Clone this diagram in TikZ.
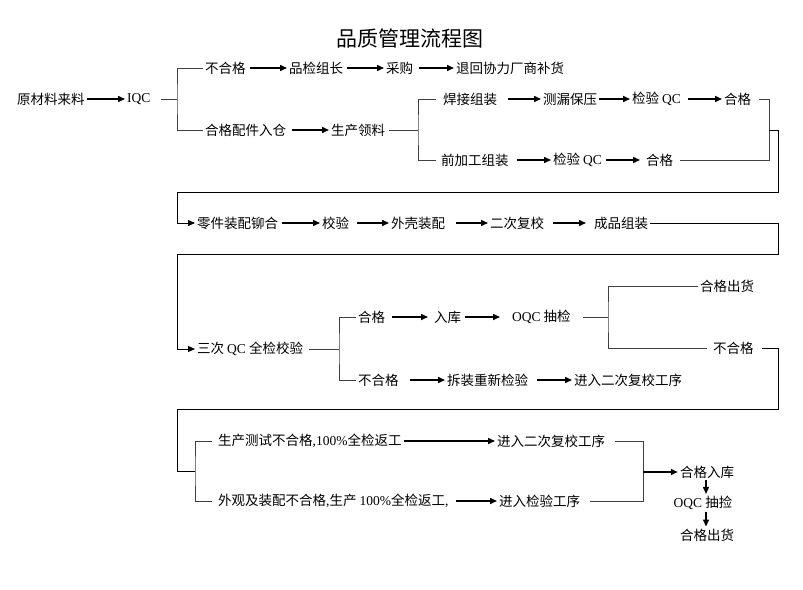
\documentclass[tikz,border=0pt]{standalone}
\usepackage{fontspec}
\setmainfont{Liberation Serif}
\newfontfamily\cjk{Noto Sans CJK SC}
\newcommand{\xw}[1]{{\rmfamily #1}}
\usetikzlibrary{arrows.meta, positioning}

\begin{document}
\begin{tikzpicture}[x=1pt, y=-1pt,
		txt/.style={anchor=west, inner sep=2pt, font=\cjk\fontsize{13.5}{16}\selectfont},
		arr/.style={-{Triangle[length=7pt,width=6pt]}, line width=1.5pt},
		ln/.style={line width=1pt, black!75},
		wrap/.style={line width=1pt, -{Triangle[length=7pt,width=6pt]}}]
	\useasboundingbox (0,0) rectangle (803,589);
	\node[font=\cjk\fontsize{21}{25}\selectfont] (title) at (410,38) {品质管理流程图};

	% IQC
	\node[txt] (raw) at (15,99) {原材料来料};
	\node[txt] (iqc) at (125,99) {\xw{IQC}};
	\node[txt] (ng1) at (203,68) {不合格};
	\node[txt] (pjzz) at (287,68) {品检组长};
	\node[txt] (cg) at (384,68) {采购};
	\node[txt] (thbh) at (454,68) {退回协力厂商补货};
	\node[txt] (hgpj) at (203,130) {合格配件入仓};
	\node[txt] (sclj) at (329,130) {生产领料};
	\node[txt] (hjzz) at (441,99) {焊接组装};
	\node[txt] (clby) at (541,99) {测漏保压};
	\node[txt] (jyqc1) at (630,99) {检验 \xw{QC}};
	\node[txt] (hg1) at (722,99) {合格};
	\node[txt] (qjg) at (439,160) {前加工组装};
	\node[txt] (jyqc2) at (551,160) {检验 \xw{QC}};
	\node[txt] (hg2) at (644,160) {合格};

	% assembly line
	\node[txt] (ljzp) at (195,223) {零件装配铆合};
	\node[txt] (jy) at (320,223) {校验};
	\node[txt] (wkzp) at (389,223) {外壳装配};
	\node[txt] (ecfj) at (488,223) {二次复校};
	\node[txt] (cpzz) at (592,223) {成品组装};

	% final QC
	\node[txt] (scqc) at (195,349) {三次 \xw{QC} 全检校验};
	\node[txt] (hg3) at (356,317) {合格};
	\node[txt] (rk) at (432,317) {入库};
	\node[txt] (oqc1) at (510,317) {\xw{OQC} 抽检};
	\node[txt] (hgch1) at (698,286) {合格出货};
	\node[txt] (bhg2) at (711,348) {不合格};
	\node[txt] (bhg3) at (356,380) {不合格};
	\node[txt] (czjy) at (445,380) {拆装重新检验};
	\node[txt] (jr1) at (572,380) {进入二次复校工序};

	% rework
	\node[txt] (sccs) at (216,441) {生产测试不合格\xw{,100\%}全检返工};
	\node[txt] (jr2) at (495,441) {进入二次复校工序};
	\node[txt] (wgzp) at (216,501) {外观及装配不合格\xw{,}生产 \xw{100\%}全检返工\xw{,}};
	\node[txt] (jrjy) at (497,501) {进入检验工序};
	\node[txt, anchor=center] (hgrk) at (707,472) {合格入库};
	\node[txt, anchor=center] (oqc2) at (703,503) {\xw{OQC} 抽捡};
	\node[txt, anchor=center] (hgch2) at (707,535) {合格出货};

	\coordinate (b1) at (177,99);
	\coordinate (b2) at (418,130);
	\coordinate (b3) at (769,130);
	\coordinate (r1) at (778,192);
	\coordinate (l1) at (177,192);
	\coordinate (r2) at (778,254);
	\coordinate (l2) at (177,254);
	\coordinate (b4) at (339,349);
	\coordinate (b5) at (608,317);
	\coordinate (r3) at (778,409);
	\coordinate (l3) at (177,409);
	\coordinate (b6) at (195,471);
	\coordinate (b7) at (643,472);

	\draw[arr] (raw) -- (iqc);
	\draw[ln] ([xshift=8pt]iqc.east) -- (b1);
	\draw[ln] (ng1.west) -| (b1) |- (hgpj.west);
	\draw[arr] ([xshift=2pt]ng1.east) -- (pjzz);
	\draw[arr] ([xshift=2pt]pjzz.east) -- (cg);
	\draw[arr] ([xshift=4pt]cg.east) -- (thbh);
	\draw[arr] ([xshift=4pt]hgpj.east) -- (sclj);
	\draw[ln] ([xshift=2pt]sclj.east) -- (b2);
	\draw[ln] ([xshift=-5pt]hjzz.west) -| (b2) |- ([xshift=-3pt]qjg.west);
	\draw[arr] ([xshift=9pt]hjzz.east) -- (clby);
	\draw[arr] (clby) -- (jyqc1);
	\draw[arr] ([xshift=5pt]jyqc1.east) -- (hg1);
	\draw[arr] ([xshift=6pt]qjg.east) -- (jyqc2);
	\draw[arr] ([xshift=2pt]jyqc2.east) -- ([xshift=-4pt]hg2.west);
	\draw[ln] ([xshift=6pt]hg1.east) -| (b3);
	\draw[ln] ([xshift=5pt]hg2.east) -| (b3);
	\draw[wrap] (b3) -| (r1) -- (l1) |- (ljzp.west);

	\draw[arr] ([xshift=2pt]ljzp.east) -- (jy);
	\draw[arr] ([xshift=6pt]jy.east) -- (wkzp);
	\draw[arr] ([xshift=9pt]wkzp.east) -- (ecfj);
	\draw[arr] ([xshift=7pt]ecfj.east) -- ([xshift=-6pt]cpzz.west);
	\draw[wrap] (cpzz.east) -| (r2) -- (l2) |- (scqc.west);

	\draw[ln] ([xshift=4pt]scqc.east) -- (b4);
	\draw[ln] (hg3.west) -| (b4) |- (bhg3.west);
	\draw[arr] ([xshift=5pt]hg3.east) -- ([xshift=-4pt]rk.west);
	\draw[arr] ([xshift=2pt]rk.east) -- ([xshift=-10pt]oqc1.west);
	\draw[ln] ([xshift=10pt]oqc1.east) -- (b5);
	\draw[ln] (hgch1.west) -| (b5) |- ([xshift=-4pt]bhg2.west);
	\draw[arr] ([xshift=9pt]bhg3.east) -- (czjy);
	\draw[arr] ([xshift=7pt]czjy.east) -- (jr1);
	\draw[ln, black] ([xshift=6pt]bhg2.east) -| (r3) -- (l3) |- (b6);

	\draw[ln] ([xshift=-4pt]sccs.west) -| (b6) |- ([xshift=-4pt]wgzp.west);
	\draw[arr] (sccs) -- (jr2);
	\draw[arr] ([xshift=5pt]wgzp.east) -- (jrjy);
	\draw[ln] ([xshift=8pt]jr2.east) -| (b7);
	\draw[ln] ([xshift=8pt]jrjy.east) -| (b7);
	\draw[arr] (b7) -- (hgrk.west);
	\draw[arr] ([xshift=-1pt]hgrk.south) -- ([xshift=-1pt]hgrk.south |- oqc2.north);
	\draw[arr] ([xshift=3pt]oqc2.south) -- ([xshift=3pt]oqc2.south |- hgch2.north);
\end{tikzpicture}
\end{document}
